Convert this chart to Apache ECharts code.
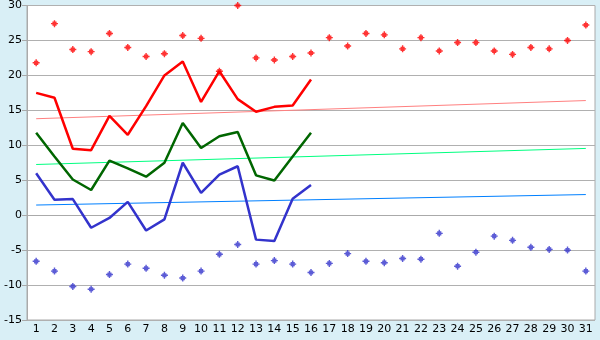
<!DOCTYPE html>
<html><head><meta charset="utf-8">
<script src="https://cdn.jsdelivr.net/npm/echarts@6/dist/echarts.min.js"></script>
<style>html,body{margin:0;padding:0;background:#d9eff6;}#c{width:600px;height:340px;}</style>
</head><body><div id="c"></div>
<script>
const days = ['1','2','3','4','5','6','7','8','9','10','11','12','13','14','15','16','17','18','19','20','21','22','23','24','25','26','27','28','29','30','31'];
const maxPoints = [21.8,27.4,23.7,23.4,26.0,24.0,22.7,23.1,25.7,25.3,20.6,30.0,22.5,22.2,22.7,23.2,25.4,24.2,26.0,25.8,23.8,25.4,23.5,24.7,24.7,23.5,23.0,24.0,23.8,25.0,27.2];
const minPoints = [-6.6,-8.0,-10.2,-10.6,-8.5,-7.0,-7.6,-8.6,-9.0,-8.0,-5.6,-4.2,-7.0,-6.5,-7.0,-8.2,-6.9,-5.5,-6.6,-6.8,-6.2,-6.3,-2.6,-7.3,-5.3,-3.0,-3.6,-4.6,-4.9,-5.0,-8.0];
const highLine = [17.5,16.8,9.5,9.3,14.2,11.5,15.6,20.0,22.0,16.2,20.6,16.6,14.8,15.5,15.7,19.4];
const meanLine = [11.8,8.4,5.1,3.6,7.8,6.7,5.5,7.5,13.2,9.6,11.3,11.9,5.7,4.95,8.4,11.8];
const lowLine = [6.0,2.2,2.3,-1.8,-0.4,1.9,-2.2,-0.6,7.5,3.2,5.8,7.0,-3.5,-3.7,2.35,4.3];
const highTrendEnds = [13.8,16.4];
const meanTrendEnds = [7.25,9.55];
const lowTrendEnds = [1.45,2.95];
const yTicks = {min:-15,max:30,interval:5};

function trend(ends){const a=new Array(days.length).fill(null);a[0]=ends[0];a[days.length-1]=ends[1];return a;}
const plus='path://M2,0H3V1H4V2H5V3H4V4H3V5H2V4H1V3H0V2H1V1H2Z';
const font='DejaVu Sans';
const chart=echarts.init(document.getElementById('c'));
chart.setOption({
  animation:false,
  backgroundColor:'#d9eff6',
  grid:{left:27,right:5,top:5,bottom:20,show:true,backgroundColor:'#ffffff',borderColor:'#aaaaaa',borderWidth:1},
  xAxis:{type:'category',data:days,boundaryGap:true,
    axisLine:{lineStyle:{color:'#aaaaaa'}},
    axisTick:{alignWithLabel:true,length:5,lineStyle:{color:'#000'}},
    axisLabel:{color:'#000',fontFamily:font,fontSize:11,margin:4,interval:0},
    splitLine:{show:false}},
  yAxis:{type:'value',min:yTicks.min,max:yTicks.max,interval:yTicks.interval,
    axisLine:{show:true,lineStyle:{color:'#aaaaaa'}},
    axisTick:{show:true,length:5,lineStyle:{color:'#aaaaaa'}},
    axisLabel:{color:'#000',fontFamily:font,fontSize:11,margin:5},
    splitLine:{show:true,lineStyle:{color:'#b0b0b0',width:1}}},
  series:[
    {type:'line',data:trend(highTrendEnds),connectNulls:true,symbol:'none',lineStyle:{color:'#ff8080',width:1},z:2},
    {type:'line',data:trend(meanTrendEnds),connectNulls:true,symbol:'none',lineStyle:{color:'#00ff80',width:1},z:2},
    {type:'line',data:trend(lowTrendEnds),connectNulls:true,symbol:'none',lineStyle:{color:'#0080ff',width:1},z:2},
    {type:'line',data:highLine,symbol:'none',lineStyle:{color:'#ff0000',width:2.5},z:3},
    {type:'line',data:meanLine,symbol:'none',lineStyle:{color:'#006600',width:2.5},z:3},
    {type:'line',data:lowLine,symbol:'none',lineStyle:{color:'#3333cc',width:2.5},z:3},
    {type:'scatter',data:maxPoints,symbol:plus,symbolSize:7,itemStyle:{color:'#ff0000'},z:4},
    {type:'scatter',data:minPoints,symbol:plus,symbolSize:7,itemStyle:{color:'#3333cc'},z:4}
  ]
});
</script></body></html>
